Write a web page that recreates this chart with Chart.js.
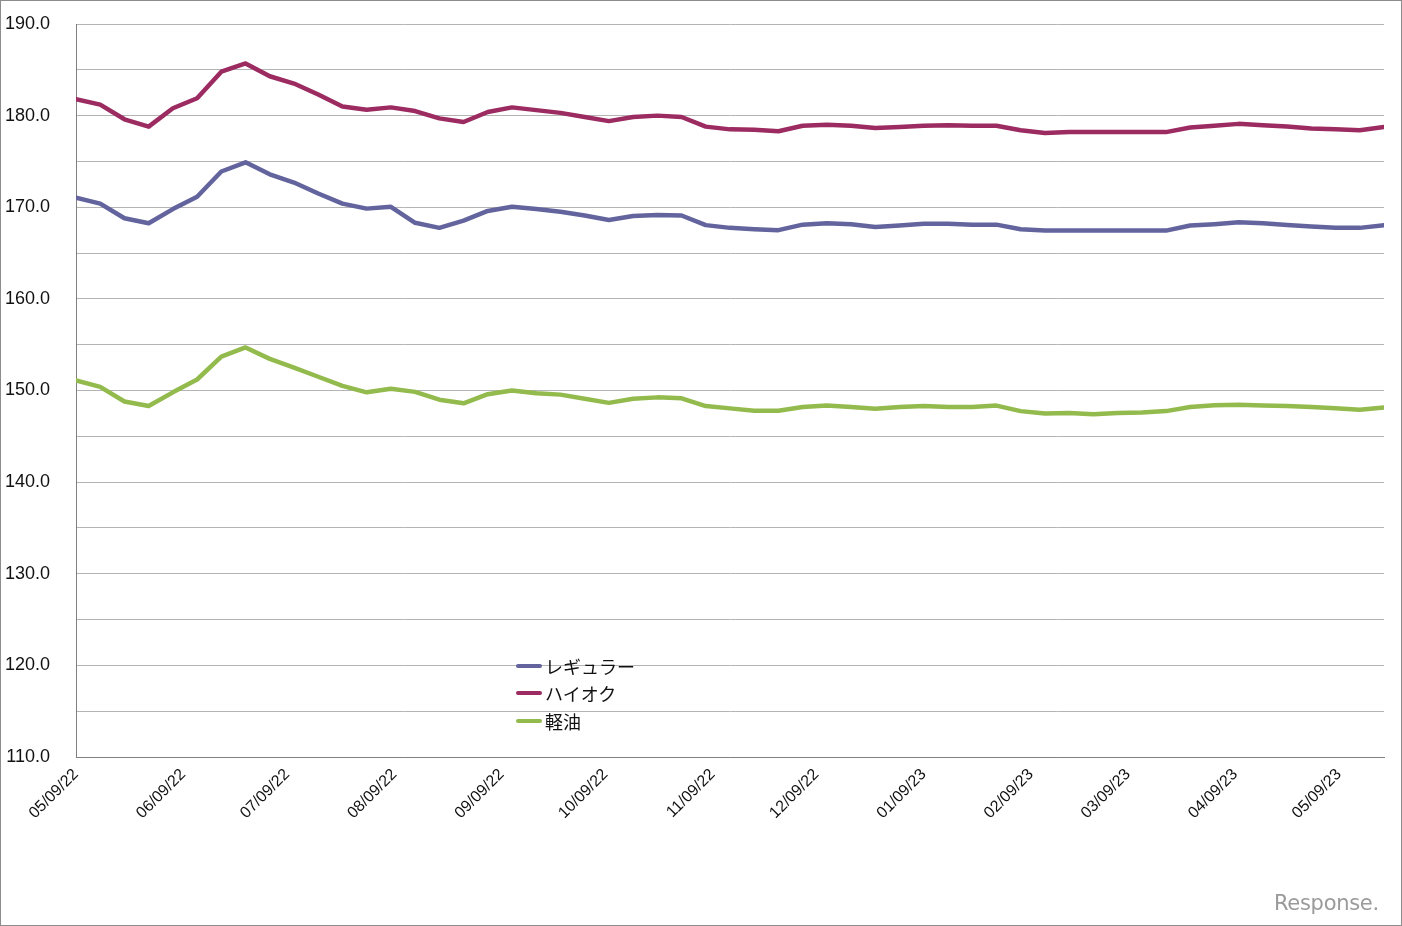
<!DOCTYPE html>
<html>
<head>
<meta charset="utf-8">
<script src="https://cdn.jsdelivr.net/npm/chart.js@4/dist/chart.umd.min.js"></script>
<style>
html,body{margin:0;padding:0;background:#fff;}
#wrap{position:relative;width:1402px;height:926px;overflow:hidden;}
canvas{display:block;}
#legend{position:absolute;left:516px;top:652px;font-family:"Noto Sans CJK JP","Noto Sans",sans-serif;font-size:18px;color:#111;}
#legend .item{height:27.5px;display:flex;align-items:center;white-space:nowrap;}
#legend .sw{width:26px;height:4px;border-radius:2px;margin-right:3px;}
#wm{position:absolute;left:1274px;top:891px;font-family:"DejaVu Sans",sans-serif;font-size:21px;color:#9a9a9a;letter-spacing:-0.3px;}
</style>
</head>
<body>
<div id="wrap">
<canvas id="c" width="1402" height="926"></canvas>
<div id="legend"></div>
<div id="wm">Response.</div>
</div>
<script>
// Weekly survey dates
const weekDates = [
 '2022-05-09','2022-05-16','2022-05-23','2022-05-30','2022-06-06','2022-06-13','2022-06-20','2022-06-27',
 '2022-07-04','2022-07-11','2022-07-18','2022-07-25','2022-08-01','2022-08-08','2022-08-15','2022-08-22',
 '2022-08-29','2022-09-05','2022-09-12','2022-09-19','2022-09-26','2022-10-03','2022-10-10','2022-10-17',
 '2022-10-24','2022-10-31','2022-11-07','2022-11-14','2022-11-21','2022-11-28','2022-12-05','2022-12-12',
 '2022-12-19','2022-12-26','2023-01-02','2023-01-09','2023-01-16','2023-01-23','2023-01-30','2023-02-06',
 '2023-02-13','2023-02-20','2023-02-27','2023-03-06','2023-03-13','2023-03-20','2023-03-27','2023-04-03',
 '2023-04-10','2023-04-17','2023-04-24','2023-05-01','2023-05-08','2023-05-15','2023-05-22'
];

// Series values (yen / litre)
const regular = [
 171.05,170.4,168.8,168.25,169.8,171.15,173.9,174.9,173.6,172.7,171.5,170.4,
 169.85,170.05,168.3,167.75,168.55,169.6,170.05,169.8,169.5,169.1,168.6,169.05,169.15,169.1,
 168.05,167.75,167.6,167.5,168.1,168.25,168.15,167.85,168.0,168.2,168.2,168.1,168.1,167.6,167.45,
 167.45,167.45,167.45,167.45,167.45,168.0,168.15,168.35,168.25,168.05,167.9,167.75,167.75,168.05
];
const highOctane = [
 181.8,181.2,179.6,178.8,180.8,181.9,184.8,185.7,184.3,183.5,182.3,181.0,
 180.65,180.9,180.5,179.7,179.3,180.4,180.9,180.6,180.3,179.85,179.4,179.85,180.0,179.85,
 178.8,178.5,178.45,178.3,178.9,179.0,178.9,178.65,178.75,178.9,178.95,178.9,178.9,178.4,178.1,
 178.2,178.2,178.2,178.2,178.2,178.7,178.9,179.1,178.95,178.8,178.6,178.5,178.4,178.75
];
const diesel = [
 151.1,150.4,148.8,148.3,149.8,151.2,153.7,154.7,153.45,152.5,151.5,150.5,
 149.8,150.2,149.85,149.0,148.6,149.6,150.0,149.7,149.55,149.1,148.65,149.1,149.25,149.15,
 148.3,148.05,147.8,147.8,148.2,148.35,148.2,148.0,148.2,148.3,148.2,148.2,148.35,147.75,147.5,
 147.55,147.4,147.55,147.6,147.75,148.2,148.4,148.45,148.35,148.3,148.2,148.05,147.9,148.15
];

const seriesNames = ['レギュラー','ハイオク','軽油'];
const seriesColors = ['#63649d','#9b2b60','#93ba4c'];

// Monthly tick labels (MM/DD/YY)
const tickLabels = ['05/09/22','06/09/22','07/09/22','08/09/22','09/09/22','10/09/22','11/09/22',
 '12/09/22','01/09/23','02/09/23','03/09/23','04/09/23','05/09/23'];

const yMin = 110, yMax = 190, yStep = 5;

const DAY = 86400000;
const t0 = Date.parse(weekDates[0]);
const dayOf = d => Math.round((Date.parse(d) - t0) / DAY);
const labelToIso = s => '20' + s.slice(6,8) + '-' + s.slice(0,2) + '-' + s.slice(3,5);
const tickDays = tickLabels.map(s => dayOf(labelToIso(s)));
const xs = weekDates.map(dayOf);

const mk = (vals) => vals.map((v,i) => ({x: xs[i], y: v}));
const allSeries = [regular, highOctane, diesel];

const datasets = allSeries.map((vals, k) => ({
  label: seriesNames[k],
  data: mk(vals),
  borderColor: seriesColors[k],
  backgroundColor: seriesColors[k],
  borderWidth: 4.5,
  pointRadius: 0,
  tension: 0,
  borderJoinStyle: 'round',
  borderCapStyle: 'round',
  fill: false
}));

// HTML legend
const lg = document.getElementById('legend');
seriesNames.forEach((n,k) => {
  const it = document.createElement('div'); it.className = 'item';
  const sw = document.createElement('span'); sw.className = 'sw'; sw.style.background = seriesColors[k];
  const tx = document.createElement('span'); tx.textContent = n;
  it.appendChild(sw); it.appendChild(tx); lg.appendChild(it);
});

const frame = {
  id: 'frame',
  beforeDraw(chart) {
    const ctx = chart.ctx;
    ctx.save();
    ctx.fillStyle = '#fff';
    ctx.fillRect(0,0,chart.width,chart.height);
    ctx.strokeStyle = '#8c8c8c';
    ctx.lineWidth = 1;
    ctx.strokeRect(0.5,0.5,chart.width-1,chart.height-1);
    ctx.restore();
  }
};

new Chart(document.getElementById('c'), {
  type: 'line',
  data: { datasets },
  plugins: [frame],
  options: {
    responsive: false,
    animation: false,
    devicePixelRatio: 1,
    layout: { padding: { left: 0, right: 18, top: 24, bottom: 0 } },
    plugins: { legend: { display: false }, tooltip: { enabled: false } },
    scales: {
      x: {
        type: 'linear',
        min: xs[0],
        max: xs[xs.length-1],
        afterBuildTicks: (s) => { s.ticks = tickDays.map(v => ({value: v})); },
        afterFit: (s) => { s.height = 169; s.paddingLeft = 0; s.paddingRight = 0; },
        grid: { display: true, color: 'rgba(0,0,0,0)', drawTicks: false },
        border: { display: true, color: '#808080', width: 1 },
        ticks: {
          autoSkip: false, maxRotation: 45, minRotation: 45, padding: 8,
          color: '#111',
          font: { family: '"Liberation Sans", Arial, sans-serif', size: 16 },
          callback: (v) => { const i = tickDays.indexOf(v); return i >= 0 ? tickLabels[i] : ''; }
        }
      },
      y: {
        min: yMin, max: yMax,
        afterFit: (s) => { s.width = 76; s.paddingTop = 0; s.paddingBottom = 0; },
        grid: { color: '#b4b4b4', lineWidth: 1, drawTicks: false },
        border: { display: true, color: '#808080', width: 1 },
        ticks: {
          stepSize: yStep, autoSkip: false, padding: 26,
          color: '#111',
          font: { family: '"Liberation Sans", Arial, sans-serif', size: 18 },
          callback: (v) => (v % 10 === 0 ? v.toFixed(1) : '')
        }
      }
    }
  }
});
</script>
</body>
</html>
